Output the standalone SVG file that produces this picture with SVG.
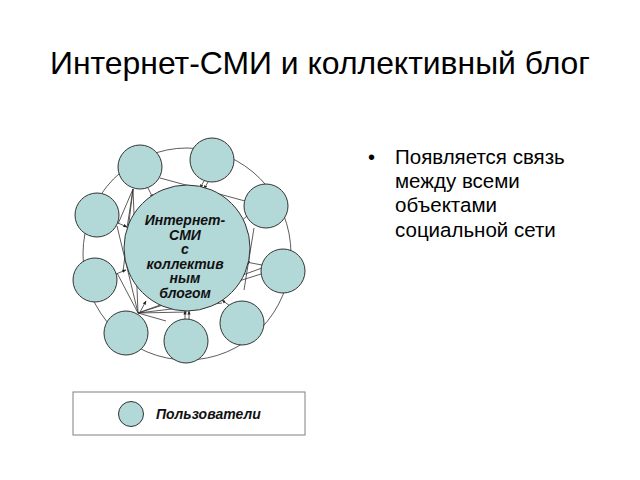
<svg xmlns="http://www.w3.org/2000/svg" width="640" height="480" viewBox="0 0 640 480">
<defs>
<style>
.u{fill:#b3d8d8;stroke:#333;stroke-width:1}
.c line, .c path{stroke:#333;stroke-width:0.8;fill:none}
.a{marker-end:url(#ar)}
.lbl{font-family:"Liberation Sans",Arial,sans-serif;font-weight:bold;font-style:italic;font-size:14px;fill:#111;text-anchor:middle}
.t{font-family:"Liberation Sans",Arial,sans-serif;fill:#000}
</style>
<marker id="ar" viewBox="0 0 10 10" refX="9" refY="5" markerWidth="5" markerHeight="5" orient="auto"><path d="M0,1 L10,5 L0,9 z" fill="#222"/></marker>
</defs>
<rect width="640" height="480" fill="#fff"/>
<text class="t" x="320" y="74" font-size="30.5" text-anchor="middle" textLength="540" lengthAdjust="spacingAndGlyphs">Интернет-СМИ и коллективный блог</text>
<g id="bullet">
<text class="t" x="368" y="164" font-size="20">•</text>
<text class="t" x="395" y="164" font-size="20.5">Появляется связь</text>
<text class="t" x="395" y="188" font-size="20.5">между всеми</text>
<text class="t" x="395" y="212" font-size="20.5">объектами</text>
<text class="t" x="395" y="237" font-size="20.5">социальной сети</text>
</g>
<g id="connectors" class="c">
<ellipse cx="187" cy="254" rx="104" ry="106" style="stroke:#333;stroke-width:0.8;fill:none"/>
<line x1="160" y1="178" x2="245" y2="201"/>
<line x1="133" y1="189" x2="118" y2="224"/>
<line x1="133" y1="189" x2="123" y2="272"/>
<line x1="133" y1="189" x2="138" y2="313"/>
<line x1="133" y1="189" x2="127" y2="228"/>
<line x1="117" y1="226" x2="138" y2="313"/>
<line x1="117" y1="273" x2="138" y2="313"/>
<line x1="138" y1="313" x2="187" y2="312"/>
<line x1="138" y1="313" x2="166" y2="321"/>
<line x1="138" y1="313" x2="222" y2="303"/>
<line x1="138" y1="313" x2="262" y2="268"/>
<line x1="138" y1="313" x2="261" y2="274"/>
<line x1="254" y1="228" x2="244" y2="290"/>
<line class="a" x1="148" y1="188" x2="153" y2="198"/>
<line class="a" x1="204" y1="181" x2="200" y2="188"/>
<line class="a" x1="208" y1="182" x2="204" y2="189"/>
<line class="a" x1="247" y1="216" x2="240" y2="222"/>
<line class="a" x1="262" y1="265" x2="246" y2="262"/>
<line class="a" x1="230" y1="306" x2="222" y2="300"/>
<line class="a" x1="185" y1="320" x2="185" y2="311"/>
<line class="a" x1="189" y1="320" x2="189" y2="311"/>
<line class="a" x1="139" y1="314" x2="146" y2="301"/>
<line class="a" x1="116" y1="274" x2="126" y2="270"/>
<line class="a" x1="118" y1="223" x2="127" y2="227"/>
</g>
<g id="central"><circle class="u" cx="187" cy="248" r="63"/>
<text class="lbl" x="185" y="225">Интернет-</text>
<text class="lbl" x="185" y="239.5">СМИ</text>
<text class="lbl" x="185" y="254">с</text>
<text class="lbl" x="185" y="268.5">коллектив</text>
<text class="lbl" x="185" y="283">ным</text>
<text class="lbl" x="185" y="297.5">блогом</text>
</g>
<g id="u1"><circle class="u" cx="140" cy="167" r="22"/></g>
<g id="u2"><circle class="u" cx="212" cy="160" r="22"/></g>
<g id="u3"><circle class="u" cx="266" cy="206" r="22"/></g>
<g id="u4"><circle class="u" cx="283" cy="271" r="22"/></g>
<g id="u5"><circle class="u" cx="242" cy="323" r="22"/></g>
<g id="u6"><circle class="u" cx="186" cy="341" r="22"/></g>
<g id="u7"><circle class="u" cx="126" cy="333" r="22"/></g>
<g id="u8"><circle class="u" cx="95" cy="280" r="22"/></g>
<g id="u9"><circle class="u" cx="97" cy="215" r="22"/></g>
<g id="legend">
<rect x="73" y="392" width="232" height="43" fill="#fff" stroke="#808080" stroke-width="1"/>
<circle class="u" cx="131" cy="414" r="12.5"/>
<text class="lbl" x="156" y="419" style="text-anchor:start">Пользователи</text>
</g>
</svg>
